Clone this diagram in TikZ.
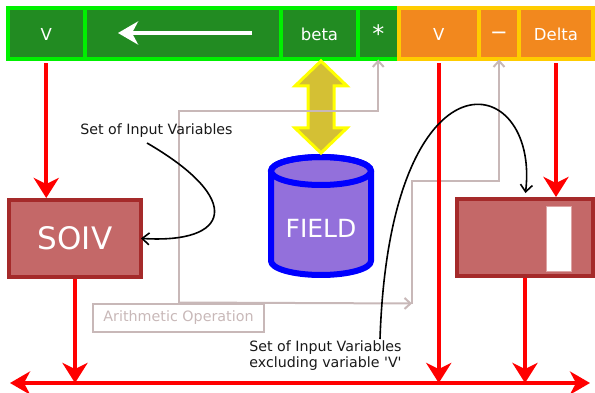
\documentclass[tikz,border=0pt]{standalone}
\usepackage{fontspec}
\setmainfont{DejaVu Sans}
\usetikzlibrary{arrows.meta,calc}
\definecolor{dkgreen}{RGB}{34,139,34}
\definecolor{bgreen}{RGB}{0,240,0}
\definecolor{orangef}{RGB}{242,136,30}
\definecolor{goldb}{RGB}{255,204,0}
\definecolor{soivfill}{RGB}{196,104,104}
\definecolor{soivdraw}{RGB}{165,42,42}
\definecolor{grayc}{RGB}{200,184,184}
\definecolor{fieldfill}{RGB}{147,112,219}
\definecolor{fieldblue}{RGB}{0,0,255}
\definecolor{yfill}{RGB}{212,192,52}
\definecolor{yborder}{RGB}{255,255,0}
\definecolor{redc}{RGB}{255,0,0}
\tikzset{
  cellg/.style={draw=bgreen, fill=dkgreen, line width=4pt, text=white, minimum height=51pt, inner sep=0pt, font=\fontsize{16.5}{19}\selectfont},
  cello/.style={draw=goldb, fill=orangef, line width=4pt, text=white, minimum height=51pt, inner sep=0pt, font=\fontsize{16.5}{19}\selectfont},
  redarrow/.style={draw=redc, line width=4pt, -{Stealth[length=20pt,width=25pt,inset=6pt]}},
  grayarrow/.style={draw=grayc, line width=2pt, -{Straight Barb[length=6pt,width=11pt]}},
  blackarrow/.style={draw=black, line width=1.6pt, -{Straight Barb[length=7pt,width=12pt]}},
  lbl/.style={font=\fontsize{14.2}{16}\selectfont, inner sep=0pt, text=black!90, align=left},
  boxr/.style={draw=soivdraw, fill=soivfill, line width=4pt, inner sep=0pt},
}
\begin{document}
\begin{tikzpicture}[x=1pt,y=-1pt]
\useasboundingbox (0,0) rectangle (595,393);
% top bar
\node[cellg, minimum width=77.5pt] (v1) at (46.25,34) {V};
\node[cellg, minimum width=196pt] (arr) at (183,34) {};
\node[cellg, minimum width=77pt] (beta) at (319.5,34) {beta};
\node[cellg, minimum width=40.5pt, font=\fontsize{24}{26}\selectfont] (star) at (378.25,34) {*};
\node[cello, minimum width=80.5pt] (v2) at (438.75,34) {V};
\node[cello, minimum width=40pt, font=\fontsize{21}{24}\selectfont] (minus) at (499,34) {\raisebox{-6pt}[0pt][0pt]{−}};
\node[cello, minimum width=74pt] (delta) at (556,34) {Delta};
\coordinate (wa) at (252,33);
\coordinate (wb) at (118,33);
\draw[white, line width=4pt, -{Stealth[length=20pt,width=23pt,inset=6pt]}] (wa) -- (wb);
% boxes
\node[boxr, minimum width=132pt, minimum height=77pt, text=white, font=\fontsize{31}{34}\selectfont] (soiv) at (75,238.5) {SOIV};
\node[boxr, minimum width=136pt, minimum height=77pt] (rbox) at (525,237.5) {};
\node[draw=soivfill!60!white, line width=1pt, fill=white, minimum width=25pt, minimum height=65pt, inner sep=0pt] (rwhite) at (559,239) {};
% cylinder
\draw[fieldblue, line width=6pt, fill=fieldfill, line join=round] (271,171) -- (271,261) arc[start angle=180,end angle=360,x radius=50pt,y radius=14pt] -- (371,171) arc[start angle=0,end angle=180,x radius=50pt,y radius=14pt] -- cycle;
\draw[fieldblue, line width=6pt] (321,171) ellipse [x radius=50pt, y radius=14pt];
\node[text=white, font=\fontsize{25}{28}\selectfont, inner sep=0pt] (field) at (321,228) {FIELD};
% yellow double arrow
\filldraw[draw=yborder, fill=yfill, line width=3pt, line join=miter] (321,61) -- (347,86) -- (334,86) -- (334,128) -- (347,128) -- (321,153) -- (295,128) -- (308,128) -- (308,86) -- (295,86) -- cycle;
% arithmetic box
\node[draw=grayc, line width=2pt, text=grayc, minimum width=171pt, minimum height=28pt, inner sep=0pt, font=\fontsize{14.3}{16}\selectfont] (arith) at (178.5,317.5) {Arithmetic Operation};
\coordinate (g1) at (178.5,111);
\coordinate (g2) at (412,303.5);
\coordinate (g3) at (412,181);
\draw[grayarrow, shorten >=-2pt] (arith.north) -- (g1) -| (star.south);
\draw[grayarrow] (arith.north) -- (g2);
\draw[grayarrow, shorten >=-2pt] (g2) -- (g3) -| (minus.south);
% bottom line
\coordinate (bl) at (10,383);
\coordinate (br) at (590,383);
\draw[draw=redc, line width=4pt, {Stealth[length=20pt,width=23pt,inset=6pt]}-{Stealth[length=20pt,width=23pt,inset=6pt]}] (bl) -- (br);
% red arrows
\draw[redarrow, shorten <=2pt] (v1.south) -- (v1.south |- soiv.north);
\draw[redarrow] (soiv.south) -- (soiv.south |- bl);
\draw[redarrow, shorten <=2pt] (v2.south) -- (v2.south |- bl);
\draw[redarrow, shorten <=2pt] (delta.south) -- (delta.south |- rbox.north);
\draw[redarrow] (rbox.south) -- (rbox.south |- bl);
% labels
\node[lbl] (lbl1) at (156.5,131) {Set of Input Variables};
\node[lbl] (lbl2) at (325.5,356) {Set of Input Variables\\excluding variable \textquotesingle V\textquotesingle};
\coordinate (c1s) at (147,143);
\coordinate (c2s) at (380,339);
\draw[blackarrow, shorten >=-2pt] (c1s) .. controls (245,200) and (230,244) .. (soiv.east);
\draw[blackarrow, shorten >=4pt] (c2s) .. controls (390,40) and (540,70) .. (rbox.north);
\end{tikzpicture}
\end{document}
